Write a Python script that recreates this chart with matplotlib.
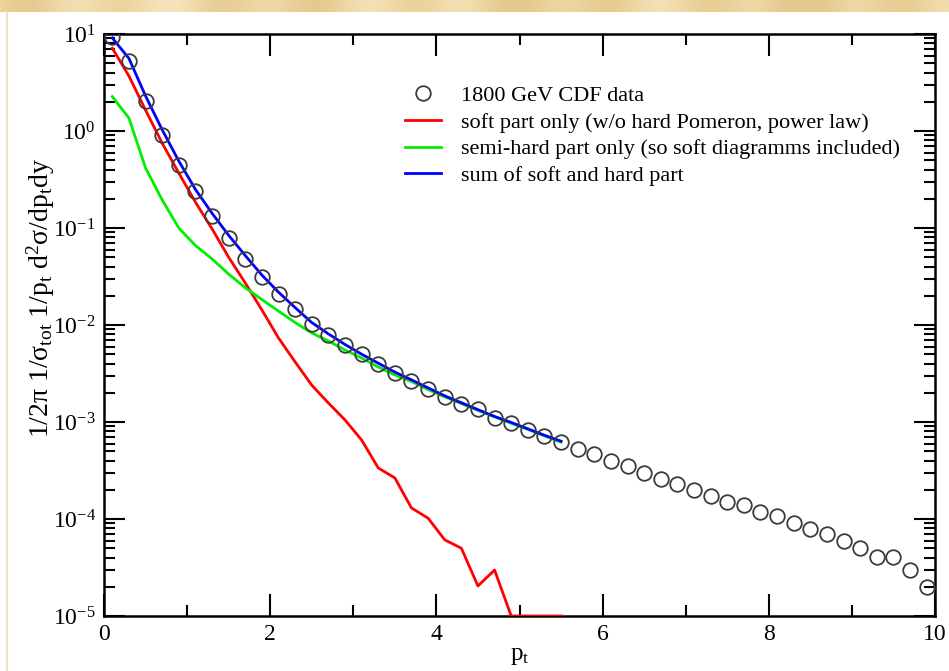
import numpy as np
import matplotlib
matplotlib.use("Agg")
import matplotlib.pyplot as plt
from matplotlib.ticker import LogLocator, MultipleLocator, FixedLocator, NullFormatter

plt.rcParams["font.family"] = ["Liberation Serif", "DejaVu Serif"]
plt.rcParams["mathtext.fontset"] = "custom"
plt.rcParams["mathtext.rm"] = "Liberation Serif"
plt.rcParams["mathtext.it"] = "Liberation Serif:italic"
plt.rcParams["mathtext.bf"] = "Liberation Serif:bold"

# CDF 1800 GeV inclusive spectrum
pt_data = [0.1, 0.3, 0.5, 0.7, 0.9, 1.1, 1.3, 1.5, 1.7, 1.9,
           2.1, 2.3, 2.5, 2.7, 2.9, 3.1, 3.3, 3.5, 3.7, 3.9,
           4.1, 4.3, 4.5, 4.7, 4.9, 5.1, 5.3, 5.5, 5.7, 5.9,
           6.1, 6.3, 6.5, 6.7, 6.9, 7.1, 7.3, 7.5, 7.7, 7.9,
           8.1, 8.3, 8.5, 8.7, 8.9, 9.1, 9.3, 9.5, 9.7, 9.9]
cdf_data = [9.3, 5.27, 2.04, 0.90, 0.446, 0.240, 0.1345, 0.0798, 0.0479, 0.0312,
            0.0209, 0.01462, 0.01035, 0.00788, 0.00622, 0.00497, 0.00396, 0.00320, 0.00265, 0.00219,
            0.00181, 0.00155, 0.00135, 0.00111, 0.000966, 0.000827, 0.000718, 0.000615, 0.000527, 0.000463,
            0.000396, 0.000356, 0.000298, 0.000258, 0.000227, 0.000199, 0.000171, 0.000150, 0.000138, 0.000118,
            0.000107, 9.0e-5, 7.98e-5, 7.0e-5, 6.0e-5, 5.02e-5, 4.01e-5, 4.01e-5, 2.98e-5, 1.99e-5]

# model curves
pt_model = [0.1, 0.3, 0.5, 0.7, 0.9, 1.1, 1.3, 1.5, 1.7, 1.9,
            2.1, 2.3, 2.5, 2.7, 2.9, 3.1, 3.3, 3.5, 3.7, 3.9,
            4.1, 4.3, 4.5, 4.7, 4.9, 5.1, 5.3, 5.5]
soft_part = [7.13, 3.69, 1.64, 0.75, 0.369, 0.185, 0.098, 0.050, 0.0271, 0.0143,
             0.00735, 0.00416, 0.0024, 0.00157, 0.00105, 0.000652, 0.000336, 0.000265, 0.00013, 0.000102,
             6.1e-5, 5.0e-5, 2.04e-5, 2.98e-5, 1.0e-5, 1.0e-5, 1.0e-5, 1.0e-5]
semihard_part = [2.26, 1.36, 0.416, 0.195, 0.100, 0.066, 0.048, 0.0335, 0.0242, 0.0183,
                 0.0139, 0.0106, 0.00828, 0.00684, 0.00552, 0.00457, 0.00369, 0.00305, 0.00262, 0.00216,
                 0.00182, 0.00155, 0.00132, 0.00113, 0.00097, 0.00084, 0.00072, 0.00062]
sum_parts = [9.1, 5.6, 2.3, 1.03, 0.49, 0.25, 0.142, 0.084, 0.052, 0.0327,
             0.0218, 0.0151, 0.0106, 0.0081, 0.0063, 0.0050, 0.00404, 0.00327, 0.00272, 0.00225,
             0.00186, 0.00158, 0.00134, 0.00114, 0.00099, 0.00085, 0.00073, 0.000634]

x_ticks = [0, 2, 4, 6, 8, 10]
y_ticks = [1e1, 1e0, 1e-1, 1e-2, 1e-3, 1e-4, 1e-5]
y_ticklabels = [r"$\mathregular{10^{1}}$", r"$\mathregular{10^{0}}$", r"$\mathregular{10^{-1}}$",
                r"$\mathregular{10^{-2}}$", r"$\mathregular{10^{-3}}$", r"$\mathregular{10^{-4}}$",
                r"$\mathregular{10^{-5}}$"]

fig = plt.figure(figsize=(9.49, 6.71), dpi=100)
fig.patch.set_facecolor("white")

# decorative page band along the top and thin rule on the left
band = fig.add_axes([0, 1 - 12 / 671, 1, 12 / 671])
u = np.linspace(0, 1, 949)
shade = 0.5 + 0.25 * np.sin(u * 61.0) + 0.2 * np.sin(u * 23.0 + 1.0) + 0.3 * u
shade = np.clip(shade, 0, 1)
light = np.array([0.97, 0.91, 0.76])
dark = np.array([0.90, 0.79, 0.55])
img = light[None, None, :] * (1 - shade[None, :, None]) + dark[None, None, :] * shade[None, :, None]
band.imshow(np.repeat(img, 4, axis=0), aspect="auto", extent=[0, 1, 0, 1])
band.set_axis_off()
fig.add_artist(plt.Line2D([6.5 / 949, 6.5 / 949], [0, 1 - 12 / 671], transform=fig.transFigure,
                          color="#f1e3bf", lw=1.5))

ax = fig.add_axes([104 / 949, 1 - 616 / 671, 831 / 949, 582 / 671])
ax.set_yscale("log")
ax.set_xlim(0, 10)
ax.set_ylim(1e-5, 1e1)

ax.plot(pt_data, cdf_data, linestyle="none", marker="o", markersize=10.5,
        markerfacecolor="none", markeredgecolor="#3c3c3c", markeredgewidth=1.3,
        label="1800 GeV CDF data", zorder=4)
ax.plot(pt_model, soft_part, color="#ff0000", lw=2.0, label="soft part only (w/o hard Pomeron, power law)", zorder=3)
ax.plot(pt_model, semihard_part, color="#00ee00", lw=2.0,
        label="semi-hard part only (so soft diagramms included)", zorder=3)
ax.plot(pt_model, sum_parts, color="#0000ff", lw=2.0, label="sum of soft and hard part", zorder=3)

ax.xaxis.set_major_locator(FixedLocator(x_ticks))
ax.xaxis.set_minor_locator(MultipleLocator(1))
ax.set_xticklabels([str(v) for v in x_ticks])
ax.yaxis.set_major_locator(FixedLocator(y_ticks))
ax.set_yticklabels(y_ticklabels)
ax.yaxis.set_minor_locator(LogLocator(base=10, subs=np.arange(2, 10)))
ax.yaxis.set_minor_formatter(NullFormatter())

ax.tick_params(which="both", direction="in", top=True, right=True, width=1.5, colors="black")
ax.tick_params(which="major", length=16, labelsize=17, pad=6)
ax.tick_params(which="minor", length=8)
ax.tick_params(axis="y", which="major", length=15)
for s in ax.spines.values():
    s.set_linewidth(1.8)

ax.set_xlabel(r"$\mathregular{p_t}$", fontsize=18, labelpad=0)
ax.set_ylabel(r"$\mathregular{1/2\pi\ 1/\sigma_{tot}\ 1/p_t\ d^2\sigma/dp_tdy}$", fontsize=20)
ax.yaxis.set_label_coords(-0.057, 0.546)

leg = ax.legend(loc="upper left", bbox_to_anchor=(0.352, 0.927), frameon=False, fontsize=16,
                handlelength=1.6, handletextpad=0.9, labelspacing=0.28, borderaxespad=0)

fig.savefig("out.png", dpi=100, facecolor="white")
